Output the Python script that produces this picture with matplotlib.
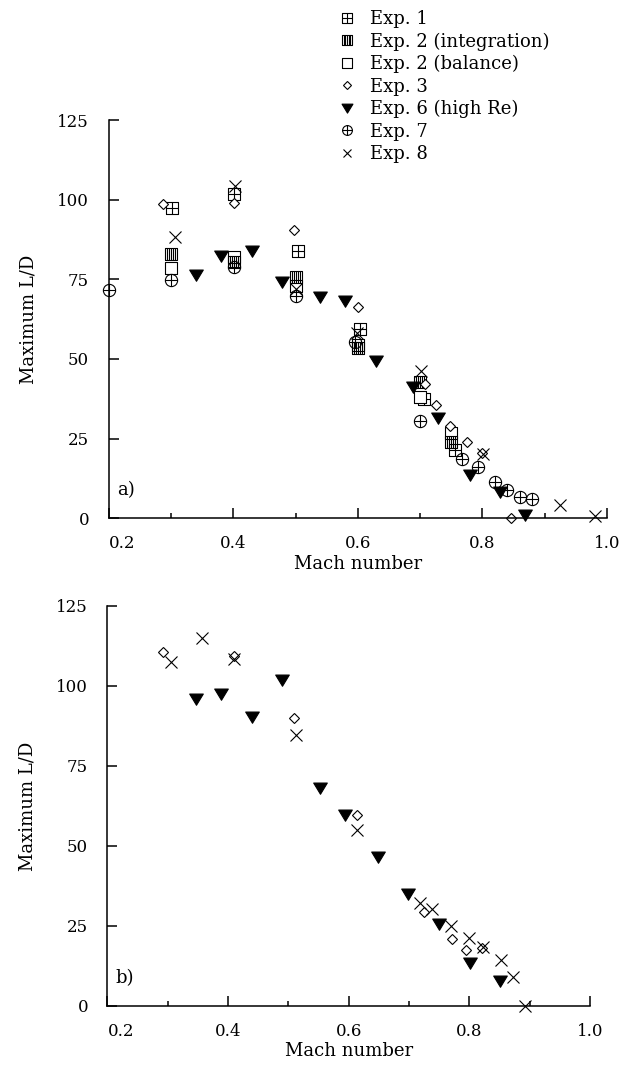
import numpy as np
import matplotlib
matplotlib.use("Agg")
import matplotlib.pyplot as plt
from matplotlib.path import Path
from matplotlib.lines import Line2D

plt.rcParams['font.family'] = ['DejaVu Serif']
plt.rcParams['font.size'] = 12

# ---- panel a) data (Mach, max L/D) ----
a_exp1_m = [0.301, 0.402, 0.504, 0.603, 0.707, 0.756]
a_exp1_ld = [97.3, 101.8, 84.0, 59.3, 37.4, 21.4]

a_exp2i_m = [0.300, 0.401, 0.500, 0.600, 0.700, 0.749]
a_exp2i_ld = [82.9, 80.3, 75.8, 53.4, 42.9, 24.0]

a_exp2b_m = [0.300, 0.401, 0.500, 0.600, 0.700, 0.749]
a_exp2b_ld = [78.7, 82.0, 73.0, 54.5, 38.2, 26.7]

a_exp3_m = [0.288, 0.402, 0.498, 0.601, 0.708, 0.725, 0.748, 0.775, 0.799, 0.846]
a_exp3_ld = [98.6, 98.9, 90.5, 66.3, 42.2, 35.5, 29.0, 24.0, 20.4, 0.0]

a_exp6_m = [0.341, 0.380, 0.430, 0.479, 0.539, 0.579, 0.630, 0.688, 0.729, 0.780, 0.829, 0.869]
a_exp6_ld = [76.5, 82.3, 84.0, 74.3, 69.6, 68.2, 49.5, 41.1, 31.4, 13.6, 8.3, 1.0]

a_exp7_m = [0.201, 0.300, 0.401, 0.500, 0.595, 0.700, 0.767, 0.793, 0.820, 0.840, 0.860, 0.879]
a_exp7_ld = [71.5, 74.8, 79.0, 69.8, 55.4, 30.6, 18.5, 16.2, 11.5, 8.9, 6.6, 6.0]

a_exp8_m = [0.306, 0.403, 0.500, 0.599, 0.702, 0.801, 0.925, 0.980]
a_exp8_ld = [88.4, 104.3, 72.0, 58.1, 46.1, 20.2, 4.2, 0.7]

# ---- panel b) data ----
b_exp3_m = [0.2925, 0.409, 0.509, 0.613, 0.725, 0.771, 0.794, 0.821]
b_exp3_ld = [110.7, 109.3, 89.9, 59.7, 29.5, 20.8, 17.5, 18.0]

b_exp6_m = [0.347, 0.388, 0.439, 0.490, 0.552, 0.594, 0.648, 0.699, 0.750, 0.801, 0.851]
b_exp6_ld = [95.8, 97.5, 90.2, 101.9, 68.0, 59.7, 46.6, 35.0, 25.6, 13.5, 7.9]

b_exp8_m = [0.305, 0.357, 0.409, 0.512, 0.614, 0.718, 0.738, 0.770, 0.800, 0.822, 0.853, 0.873, 0.892]
b_exp8_ld = [107.6, 114.9, 108.5, 84.7, 55.0, 32.3, 30.2, 25.0, 21.2, 18.5, 14.4, 9.0, 0.0]

labels = ["Exp. 1", "Exp. 2 (integration)", "Exp. 2 (balance)", "Exp. 3",
          "Exp. 6 (high Re)", "Exp. 7", "Exp. 8"]

# custom marker shapes
M, L = Path.MOVETO, Path.LINETO
sq = [(-1, -1), (1, -1), (1, 1), (-1, 1), (-1, -1)]
sq_codes = [M, L, L, L, L]
sq_plus = Path(sq + [(0, -1), (0, 1), (-1, 0), (1, 0)],
               sq_codes + [M, L, M, L])
vl = []
vc = []
for xv in [-0.67, -0.33, 0.0, 0.33, 0.67]:
    vl += [(xv, -1), (xv, 1)]
    vc += [M, L]
sq_lines = Path(sq + vl, sq_codes + vc)
sq_open = Path(sq, sq_codes)
circ_plus = Path.make_compound_path(
    Path.unit_circle(),
    Path([(-1, 0), (1, 0)], [M, L]),
    Path([(0, -1), (0, 1)], [M, L]))
tri_down = Path([(-1, 0.8), (1, 0.8), (0, -0.85), (-1, 0.8)], [M, L, L, Path.CLOSEPOLY])

styles = {
    'exp1': dict(marker=sq_plus, ms=8.6, mfc='none'),
    'exp2i': dict(marker=sq_lines, ms=8.6, mfc='none'),
    'exp2b': dict(marker=sq_open, ms=8.6, mfc='white'),
    'exp3': dict(marker='D', ms=5.0, mfc='white'),
    'exp6': dict(marker=tri_down, ms=9.8, mfc='black'),
    'exp7': dict(marker=circ_plus, ms=8.8, mfc='none'),
    'exp8': dict(marker='x', ms=8.0, mfc='none'),
}
common = dict(ls='none', mec='black', mew=0.8, clip_on=False)

fig = plt.figure(figsize=(6.3, 10.68), dpi=100)
ax1 = fig.add_axes([0.1724, 0.5147, 0.7911, 0.3729])
ax2 = fig.add_axes([0.1706, 0.0581, 0.7659, 0.3745])

ax1.plot(a_exp1_m, a_exp1_ld, **styles['exp1'], **common)
ax1.plot(a_exp2b_m, a_exp2b_ld, **styles['exp2b'], **common)
ax1.plot(a_exp2i_m, a_exp2i_ld, **styles['exp2i'], **common)
ax1.plot(a_exp3_m, a_exp3_ld, **styles['exp3'], **common)
ax1.plot(a_exp6_m, a_exp6_ld, **styles['exp6'], **common)
ax1.plot(a_exp7_m, a_exp7_ld, **styles['exp7'], **common)
ax1.plot(a_exp8_m, a_exp8_ld, **styles['exp8'], **common)

ax2.plot(b_exp3_m, b_exp3_ld, **styles['exp3'], **common)
ax2.plot(b_exp6_m, b_exp6_ld, **styles['exp6'], **common)
ax2.plot(b_exp8_m, b_exp8_ld, **styles['exp8'], **common)

for ax, tag in [(ax1, 'a)'), (ax2, 'b)')]:
    ax.set_xlim(0.2, 1.0)
    ax.set_ylim(0, 125)
    for s in ['top', 'right']:
        ax.spines[s].set_visible(False)
    for s in ['left', 'bottom']:
        ax.spines[s].set_linewidth(1.1)
    ax.set_xticks([0.2, 0.4, 0.6, 0.8, 1.0])
    ax.set_xticklabels(['0.2', '0.4', '0.6', '0.8', '1.0'])
    ax.set_xticks([0.3, 0.5, 0.7, 0.9], minor=True)
    ax.set_yticks([0, 25, 50, 75, 100, 125])
    ax.tick_params(which='major', direction='in', length=7, width=1.1, pad=12, labelsize=12)
    ax.tick_params(which='minor', direction='in', length=3.6, width=1.1)
    ax.tick_params(axis='y', pad=14)
    ax.get_xticklabels()[0].set_ha('left')
    ax.set_xlabel('Mach number', fontsize=13, labelpad=2)
    ax.set_ylabel('Maximum L/D', fontsize=13, labelpad=14)
    ax.text(0.017, 0.07, tag, transform=ax.transAxes, fontsize=13, va='center')

handles = [Line2D([], [], ls='none', mec='black', mew=0.8, **styles[k])
           for k in ['exp1', 'exp2i', 'exp2b', 'exp3', 'exp6', 'exp7', 'exp8']]
fig.legend(handles, labels, loc='upper left', bbox_to_anchor=(0.5376, 0.9905),
           frameon=False, handlelength=0.9, handletextpad=0.85, labelspacing=0.24,
           borderpad=0, borderaxespad=0, fontsize=13, markerscale=0.8)

fig.savefig('out.png', dpi=100)
